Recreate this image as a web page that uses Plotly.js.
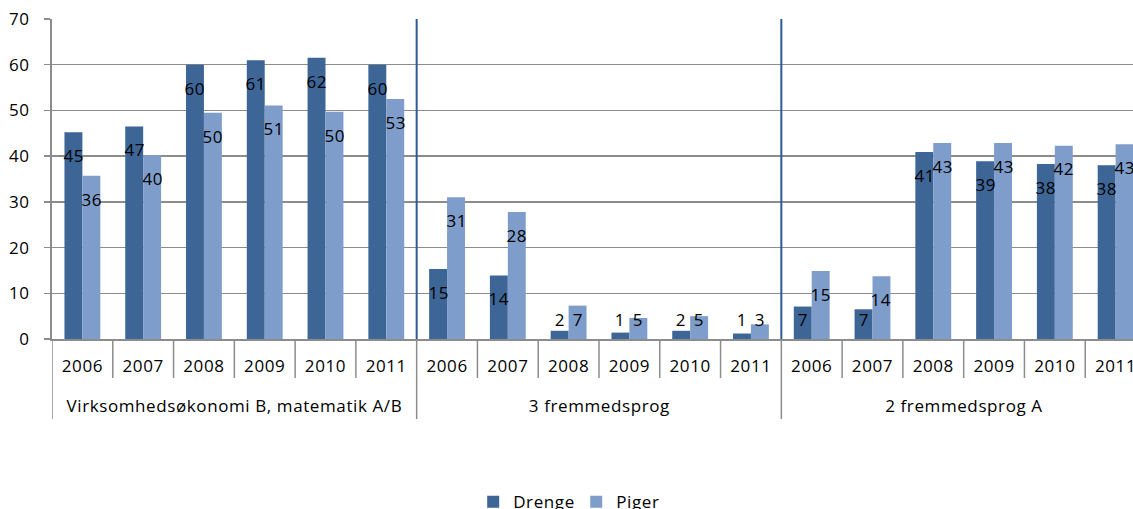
<!DOCTYPE html>
<html>
<head>
<meta charset="utf-8">
<script src="https://cdn.plot.ly/plotly-3.0.1.min.js"></script>
<style>
  html, body { margin: 0; padding: 0; overflow: hidden; background: #fff; }
  #chart { width: 1160px; height: 509px; }
  #chart svg text { letter-spacing: 0.6px; }
</style>
</head>
<body>
<div id="chart"></div>
<script>
// ---- data ----
const groups = ["Virksomhedsøkonomi B, matematik A/B", "3 fremmedsprog", "2 fremmedsprog A"];
const years = ["2006", "2007", "2008", "2009", "2010", "2011"];
const drengeVirk = [45.2, 46.5, 60.0, 61.0, 61.5, 60.0];
const pigerVirk  = [35.7, 40.2, 49.5, 51.1, 49.7, 52.5];
const drenge3fs  = [15.3, 13.9, 1.8, 1.4, 1.8, 1.2];
const piger3fs   = [31.0, 27.8, 7.3, 4.6, 5.0, 3.2];
const drenge2fs  = [7.1, 6.5, 40.9, 38.9, 38.3, 38.0];
const piger2fs   = [14.9, 13.7, 42.9, 42.9, 42.3, 42.6];
const seriesNames = ["Drenge", "Piger"];
const seriesColors = ["#3D6697", "#7E9DCA"];

// ---- build ----
const drenge = [].concat(drengeVirk, drenge3fs, drenge2fs);
const piger = [].concat(pigerVirk, piger3fs, piger2fs);
const nPer = years.length;
const nCat = groups.length * nPer;
const xs = [], ticktext = [];
for (let g = 0; g < groups.length; g++) {
  for (let i = 0; i < nPer; i++) { xs.push(g * nPer + i); ticktext.push(years[i]); }
}

const FONT = "Open Sans, Noto Sans, DejaVu Sans, sans-serif";
const FS = 17;
const bargap = 0.41;
const half = (1 - bargap) / 2;

const traces = [drenge, piger].map((vals, k) => ({
  type: "bar",
  name: seriesNames[k],
  x: xs,
  y: vals,
  marker: { color: seriesColors[k], line: { width: 0 } },
  hoverinfo: "skip"
}));

const annotations = [];
[drenge, piger].forEach((vals, k) => {
  vals.forEach((v, i) => {
    annotations.push({
      x: xs[i] + (k === 0 ? -0.5 : 0.5) * half,
      y: Math.max(v - 5.1, 4.2),
      xref: "x", yref: "y",
      text: String(Math.round(v)),
      showarrow: false,
      font: { family: FONT, size: FS, color: "#000" },
      xanchor: "center", yanchor: "middle"
    });
  });
});
const labelRowBottom = -39 / 320;
const groupRowBottom = -80 / 320;
groups.forEach((g, gi) => {
  annotations.push({
    x: gi * nPer + (nPer - 1) / 2,
    y: -66 / 320,
    xref: "x", yref: "paper",
    text: g, showarrow: false,
    font: { family: FONT, size: FS, color: "#000" },
    xanchor: "center", yanchor: "middle"
  });
});

const shapes = [];
const GRAY = "#8C8C8C";
for (let b = 0; b <= nCat; b++) {
  const xb = b - 0.5;
  const isGroup = b % nPer === 0;
  shapes.push({
    type: "line", xref: "x", yref: "paper",
    x0: xb, x1: xb, y0: 0, y1: isGroup ? groupRowBottom : labelRowBottom,
    line: { color: GRAY, width: 1.5 }
  });
  if (isGroup && b > 0 && b < nCat) {
    shapes.push({
      type: "line", xref: "x", yref: "paper",
      x0: xb, x1: xb, y0: 0, y1: 1,
      line: { color: "#2E5A98", width: 2 }
    });
  }
}

const layout = {
  width: 1160, height: 509,
  margin: { l: 52, r: 14, t: 19, b: 170, autoexpand: false },
  paper_bgcolor: "#fff", plot_bgcolor: "#fff",
  barmode: "group", bargap: bargap, bargroupgap: 0,
  font: { family: FONT, size: FS, color: "#000" },
  showlegend: true,
  legend: {
    orientation: "h", x: 0.385, xanchor: "left", y: -0.51, yanchor: "middle",
    font: { family: FONT, size: FS, color: "#000" },
    bgcolor: "rgba(0,0,0,0)"
  },
  xaxis: {
    range: [-0.5, nCat - 0.5],
    tickmode: "array", tickvals: xs, ticktext: ticktext,
    ticks: "", showgrid: false, zeroline: false,
    showline: true, linecolor: GRAY, linewidth: 2,
    ticklabelstandoff: 11,
    tickfont: { family: FONT, size: FS, color: "#000" }
  },
  yaxis: {
    range: [0, 70], dtick: 10, tick0: 0,
    showgrid: true, gridcolor: GRAY, gridwidth: 1.5,
    zeroline: false, showline: true, linecolor: GRAY, linewidth: 2,
    ticks: "outside", ticklen: 6, tickcolor: GRAY, tickwidth: 1.5,
    ticklabelstandoff: 11,
    tickfont: { family: FONT, size: FS, color: "#000" }
  },
  shapes: shapes,
  annotations: annotations
};

Plotly.newPlot("chart", traces, layout, { displayModeBar: false, responsive: false, staticPlot: true });
</script>
</body>
</html>
